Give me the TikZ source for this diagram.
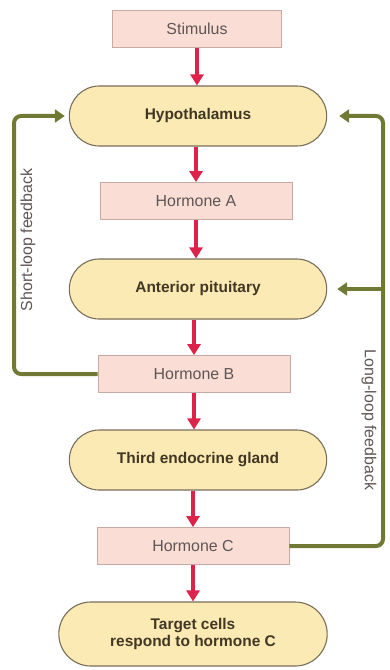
\documentclass[tikz,border=0pt]{standalone}
\usepackage{fontspec}
\setmainfont{Liberation Sans}
\usetikzlibrary{arrows.meta,shapes.misc}

\definecolor{boxpink}{RGB}{250,221,212}
\definecolor{boxedge}{RGB}{200,170,165}
\definecolor{pillfill}{RGB}{251,234,180}
\definecolor{pilledge}{RGB}{120,110,90}
\definecolor{flowred}{RGB}{222,35,75}
\definecolor{loopgreen}{RGB}{112,122,52}
\definecolor{boxtext}{RGB}{95,85,85}
\definecolor{pilltext}{RGB}{65,55,35}

\tikzset{
  hormbox/.style={draw=boxedge, fill=boxpink, line width=0.8bp,
    minimum width=192bp, minimum height=37bp, text=boxtext,
    font=\fontsize{16}{18}\selectfont},
  gland/.style={rounded rectangle, draw=pilledge, fill=pillfill, line width=1.1bp,
    minimum width=264bp, minimum height=60bp, text=pilltext, align=center,
    font=\fontsize{15.5}{18}\selectfont\bfseries},
  flow/.style={flowred, line width=4bp, -{Triangle[length=11bp, width=13bp]}},
  fb/.style={loopgreen, line width=4bp, rounded corners=7bp,
    -{Triangle[length=10bp, width=13bp]}},
  looplabel/.style={text=boxtext, font=\fontsize{16}{18}\selectfont}
}

\begin{document}
\begin{tikzpicture}[x=1bp,y=-1bp]
\useasboundingbox (0,0) rectangle (389,670);
\fill[white] (0,0) rectangle (389,670);

% main chain
\node[hormbox, minimum width=169bp] (stim) at (197,29) {Stimulus};
\node[gland] (hyp) at (198,116) {Hypothalamus};
\node[hormbox] (hA) at (196,201) {Hormone A};
\node[gland] (ap) at (198,289) {Anterior pituitary};
\node[hormbox] (hB) at (194,374) {Hormone B};
\node[gland] (third) at (198,460) {Third endocrine gland};
\node[hormbox] (hC) at (193,546) {Hormone C};
\node[gland, minimum width=275bp, minimum height=64bp] (target) at (193,634) {Target cells\\respond to hormone C};

\draw[flow] (stim.south) -- (stim.south |- hyp.north);
\draw[flow] (hA.north |- hyp.south) -- (hA.north);
\draw[flow] (hA.south) -- (hA.south |- ap.north);
\draw[flow] (hB.north |- ap.south) -- (hB.north);
\draw[flow] (hB.south) -- (hB.south |- third.north);
\draw[flow] (hC.north |- third.south) -- (hC.north);
\draw[flow] (hC.south) -- (hC.south |- target.north);

% feedback loops
\coordinate (slc) at (14,374);
\coordinate (llc) at (383,546);
\coordinate (llb) at (383,289);
\draw[fb, shorten >=4bp] (hB.west) -- (slc) |- (hyp.west);
\draw[fb, shorten >=12bp] (hC.east) -- (llc) |- (hyp.east);
\draw[fb, shorten >=10bp] (llb) -- (ap.east);

\node[looplabel, rotate=90] (shortlab) at (28,240) {Short-loop feedback};
\node[looplabel, rotate=-90] (longlab) at (369,420) {Long-loop feedback};
\end{tikzpicture}
\end{document}
